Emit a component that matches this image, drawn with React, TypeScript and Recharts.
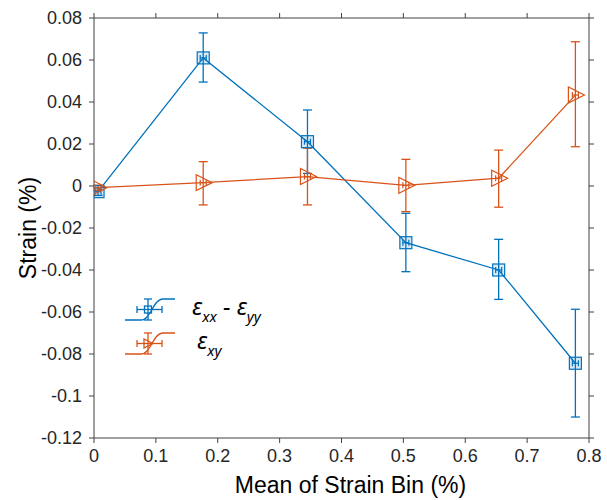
import { ComposedChart, Line, XAxis, YAxis, ErrorBar, Label } from 'recharts'

// bin centres (same for both series)
const BIN_MEAN = [0.0065, 0.1765, 0.345, 0.504, 0.654, 0.778]

// εxx - εyy
const DIFF = [-0.0027, 0.061, 0.0211, -0.027, -0.04, -0.0844]
const DIFF_LO = [-0.0045, 0.0495, 0.006, -0.0408, -0.054, -0.11]
const DIFF_HI = [-0.0009, 0.0729, 0.0362, -0.013, -0.0254, -0.0587]

// εxy
const SHEAR = [-0.0008, 0.0016, 0.0045, 0.0003, 0.0037, 0.0433]
const SHEAR_LO = [-0.002, -0.009, -0.009, -0.0122, -0.0101, 0.0187]
const SHEAR_HI = [0.0004, 0.0116, 0.018, 0.0127, 0.0171, 0.0687]

const X_TICKS = [0, 0.1, 0.2, 0.3, 0.4, 0.5, 0.6, 0.7, 0.8]
const Y_TICKS = [-0.12, -0.1, -0.08, -0.06, -0.04, -0.02, 0, 0.02, 0.04, 0.06, 0.08]

const BLUE = '#0072BD'
const ORANGE = '#D95319'
const AXIS = '#404040'
const TXT = '#262626'
const FONT = '"Liberation Sans", Arial, sans-serif'

const rows = BIN_MEAN.map((x, i) => ({
  x,
  diff: DIFF[i],
  diffErr: [DIFF[i] - DIFF_LO[i], DIFF_HI[i] - DIFF[i]],
  shear: SHEAR[i],
  shearErr: [SHEAR[i] - SHEAR_LO[i], SHEAR_HI[i] - SHEAR[i]],
}))

const fmt = (v: number) => String(Math.round(v * 100) / 100)

function SquareDot(p: any) {
  const { cx, cy, index } = p
  if (cx == null || cy == null) return <g key={index} />
  return (
    <g key={index} stroke={BLUE} strokeWidth={1.2}>
      <rect x={cx - 6} y={cy - 6} width={12} height={12} fill={BLUE} fillOpacity={0.15} />
      <line x1={cx - 3} y1={cy} x2={cx + 3} y2={cy} />
      <line x1={cx - 3} y1={cy - 3} x2={cx - 3} y2={cy + 3} />
      <line x1={cx + 3} y1={cy - 3} x2={cx + 3} y2={cy + 3} />
    </g>
  )
}

function TriDot(p: any) {
  const { cx, cy, index } = p
  if (cx == null || cy == null) return <g key={index} />
  return (
    <g key={index} stroke={ORANGE} strokeWidth={1.2} fill="none">
      <polygon points={`${cx - 7},${cy - 8} ${cx - 7},${cy + 8} ${cx + 9},${cy}`} />
      <line x1={cx - 3} y1={cy} x2={cx + 3} y2={cy} />
      <line x1={cx - 3} y1={cy - 3} x2={cx - 3} y2={cy + 3} />
      <line x1={cx + 3} y1={cy - 3} x2={cx + 3} y2={cy + 3} />
    </g>
  )
}

function XLabel(p: any) {
  const vb = p.viewBox
  return (
    <text x={vb.x + vb.width / 2 + 9} y={vb.y + 55} textAnchor="middle" fontSize={23} fill="#000" fontFamily={FONT}>
      Mean of Strain Bin (%)
    </text>
  )
}

function YLabel(p: any) {
  const vb = p.viewBox
  const cx = 28
  const cy = vb.y + vb.height / 2
  return (
    <text x={cx} y={cy} transform={`rotate(-90 ${cx} ${cy})`} textAnchor="middle" dominantBaseline="central" fontSize={23} fill="#000" fontFamily={FONT}>
      Strain (%)
    </text>
  )
}

function Glyph({ color, tri }: { color: string; tri?: boolean }) {
  return (
    <svg width={56} height={26} style={{ display: 'block', overflow: 'visible' }}>
      <path d="M0,22 L16,22 C26,22 28,1 38,1 L50,1" fill="none" stroke={color} strokeWidth={1.3} />
      <g stroke={color} strokeWidth={1.3} fill="none">
        <line x1={23} y1={1} x2={23} y2={22} />
        <line x1={19} y1={1} x2={27} y2={1} />
        <line x1={19} y1={22} x2={27} y2={22} />
        <line x1={12} y1={11.5} x2={37} y2={11.5} />
        <line x1={12} y1={8} x2={12} y2={15} />
        <line x1={37} y1={8} x2={37} y2={15} />
        {tri ? (
          <polygon points="19,7 19,16 28,11.5" />
        ) : (
          <rect x={19.5} y={8} width={7} height={7} />
        )}
      </g>
    </svg>
  )
}

const legendText: React.CSSProperties = { fontFamily: '"Noto Sans", sans-serif', fontStyle: 'italic', fontSize: 24, color: '#000', lineHeight: '26px' }
const subText: React.CSSProperties = { fontSize: 15, verticalAlign: -7 }

export default function App() {
  return (
    <div style={{ position: 'relative', width: 607, height: 500, background: '#fff' }}>
      <style>{'body{margin:0}'}</style>
      <ComposedChart width={607} height={500} data={rows} margin={{ top: 0, right: 0, bottom: 0, left: 0 }}>
        <XAxis
          dataKey="x"
          type="number"
          domain={[0, 0.8]}
          ticks={X_TICKS}
          allowDataOverflow
          tickFormatter={fmt}
          height={62}
          stroke={AXIS}
          tickSize={5}
          tickMargin={6}
          tick={{ fill: TXT, fontSize: 18, fontFamily: FONT }}
        >
          <Label content={XLabel} />
        </XAxis>
        <XAxis
          xAxisId="top"
          orientation="top"
          dataKey="x"
          type="number"
          domain={[0, 0.8]}
          ticks={X_TICKS}
          allowDataOverflow
          tickFormatter={() => ''}
          height={18}
          stroke={AXIS}
          tickSize={5}
        />
        <YAxis
          type="number"
          domain={[-0.12, 0.08]}
          ticks={Y_TICKS}
          allowDataOverflow
          tickFormatter={fmt}
          width={94}
          stroke={AXIS}
          tickSize={5}
          tickMargin={7}
          tick={{ fill: TXT, fontSize: 18, fontFamily: FONT }}
        >
          <Label content={YLabel} />
        </YAxis>
        <YAxis
          yAxisId="right"
          orientation="right"
          type="number"
          domain={[-0.12, 0.08]}
          ticks={Y_TICKS}
          allowDataOverflow
          tickFormatter={() => ''}
          width={18}
          stroke={AXIS}
          tickSize={5}
        />
        {/* invisible series so the top/right frame axes get a scale */}
        <Line
          xAxisId="top"
          yAxisId="right"
          dataKey="diff"
          stroke="none"
          dot={false}
          activeDot={false}
          legendType="none"
          isAnimationActive={false}
        />
        <Line
          dataKey="diff"
          type="linear"
          stroke={BLUE}
          strokeWidth={1.3}
          dot={SquareDot}
          activeDot={false}
          isAnimationActive={false}
        >
          <ErrorBar dataKey="diffErr" direction="y" width={4.5} stroke={BLUE} strokeWidth={1.3} />
        </Line>
        <Line
          dataKey="shear"
          type="linear"
          stroke={ORANGE}
          strokeWidth={1.3}
          dot={TriDot}
          activeDot={false}
          isAnimationActive={false}
        >
          <ErrorBar dataKey="shearErr" direction="y" width={4.5} stroke={ORANGE} strokeWidth={1.3} />
        </Line>
      </ComposedChart>

      <div style={{ position: 'absolute', left: 125, top: 293, display: 'flex', alignItems: 'center' }}>
        <Glyph color={BLUE} />
        <span style={{ ...legendText, marginLeft: 11 }}>
          ε<span style={subText}>xx</span> - ε<span style={subText}>yy</span>
        </span>
      </div>
      <div style={{ position: 'absolute', left: 125, top: 327, display: 'flex', alignItems: 'center' }}>
        <Glyph color={ORANGE} tri />
        <span style={{ ...legendText, marginLeft: 16 }}>
          ε<span style={subText}>xy</span>
        </span>
      </div>
    </div>
  )
}
